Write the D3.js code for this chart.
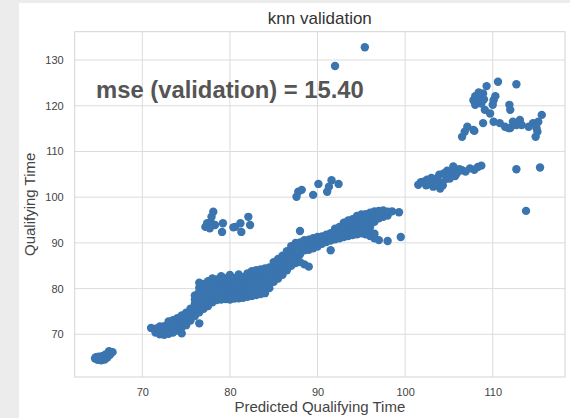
<!DOCTYPE html>
<html><head><meta charset="utf-8">
<script src="https://cdn.jsdelivr.net/npm/d3@7/dist/d3.min.js"></script>
<style>body{margin:0;background:#fff;overflow:hidden}svg{display:block}</style>
</head><body><svg id="c" width="570" height="418"></svg>
<script>
// ---- data: [predicted, actual] ----
const xTicks = [70, 80, 90, 100, 110];
const yTicks = [70, 80, 90, 100, 110, 120, 130];
const titleText = "knn validation";
const xLabel = "Predicted Qualifying Time";
const yLabel = "Qualifying Time";
const mseText = "mse (validation) = 15.40";

const lowCluster = [[64.6,64.7],[64.9,64.4],[65.3,64.3],[65.7,64.5],[66.0,64.9],[66.3,65.5],[66.6,66.1],[66.2,66.3],[65.8,65.6],[65.4,65.2],[65.0,65.1],[64.7,65.0],[65.5,64.8],[65.1,64.6],[65.9,65.2]];

// main diagonal band, listed column by column: [predicted, [actual values...]]
const bandColumns = [
 [71.0,[71.4]],
 [71.5,[70.4,71.2]],
 [72.0,[70.0,70.9,71.7]],
 [72.5,[69.9,70.8,71.8]],
 [73.0,[70.1,71.0,71.9,72.8]],
 [73.5,[70.4,71.3,72.2,73.1]],
 [74.0,[70.8,71.7,72.6,73.5]],
 [74.5,[70.2,71.5,72.4,73.3,74.1]],
 [75.0,[72.0,72.9,73.8,74.7]],
 [75.5,[73.0,73.9,74.8,75.6]],
 [76.0,[74.0,74.9,75.8,76.7,77.6,78.5]],
 [76.5,[72.4,74.8,75.7,76.6,77.5,78.4,79.3,80.2,81.3]],
 [77.0,[75.6,76.5,77.4,78.3,79.2,80.1,81.0]],
 [77.5,[76.2,77.1,78.0,78.9,79.8,80.7,81.6]],
 [78.0,[77.0,77.9,78.8,79.7,80.6,81.5,82.2]],
 [78.5,[77.5,78.4,79.3,80.2,81.1,82.0]],
 [79.0,[77.6,78.5,79.4,80.3,81.2,82.1,82.7]],
 [79.5,[77.7,78.6,79.5,80.4,81.3,82.2]],
 [80.0,[77.6,78.5,79.4,80.3,81.2,82.1,83.0]],
 [80.5,[77.8,78.7,79.6,80.5,81.4,82.3]],
 [81.0,[77.9,78.8,79.7,80.6,81.5,82.4,83.1]],
 [81.5,[78.0,78.9,79.8,80.7,81.6,82.5]],
 [82.0,[78.2,79.1,80.0,80.9,81.8,82.7,83.3]],
 [82.5,[78.4,79.3,80.2,81.1,82.0,82.9,83.8]],
 [83.0,[78.6,79.5,80.4,81.3,82.2,83.1,84.0]],
 [83.5,[78.8,79.7,80.6,81.5,82.4,83.3,84.2]],
 [84.0,[79.0,79.9,80.8,81.7,82.6,83.5,84.4]],
 [84.5,[80.1,81.0,81.9,82.8,83.7,84.6]],
 [85.0,[81.5,82.4,83.3,84.2,85.1,85.8]],
 [85.5,[82.2,83.1,84.0,84.9,85.8,86.5]],
 [86.0,[83.0,83.9,84.8,85.7,86.6,87.2]],
 [86.5,[84.0,84.9,85.8,86.7,87.6,88.2]],
 [87.0,[85.0,85.9,86.8,87.7,88.6,89.3]],
 [87.5,[85.6,86.5,87.4,88.3,89.2,90.0]],
 [88.0,[85.8,87.5,88.4,89.3,90.1,92.6]],
 [88.5,[85.3,88.4,89.2,90.0,90.6]],
 [89.0,[84.8,88.5,89.3,90.1,90.7]],
 [89.5,[88.8,89.6,90.4,91.0]],
 [90.0,[89.2,90.0,90.8,91.3]],
 [90.5,[89.8,90.6,91.4]],
 [91.0,[90.2,91.0,91.8]],
 [91.5,[88.4,90.5,91.3,92.1]],
 [92.0,[90.8,91.6,92.4,93.1]],
 [92.5,[91.0,91.9,92.7,93.5]],
 [93.0,[91.3,92.2,93.0,93.8,94.4]],
 [93.5,[91.5,92.4,93.3,94.1,94.9]],
 [94.0,[91.7,92.6,93.5,94.4,95.2]],
 [94.5,[91.9,92.8,93.7,94.6,95.4,95.9]],
 [95.0,[92.1,93.0,93.9,94.8,95.7,96.2]],
 [95.5,[91.9,92.8,93.7,94.6,95.5,96.3]],
 [96.0,[91.5,92.4,93.5,94.4,95.3,96.2,96.6]],
 [96.5,[91.0,92.0,94.6,95.5,96.4,96.9]],
 [97.0,[90.6,95.4,96.3,97.0]],
 [97.5,[95.7,96.5,97.1]],
 [98.0,[90.4,96.0,96.8]],
 [98.5,[96.9]],
 [99.3,[96.7]],
 [99.5,[91.3]]
];

const upperLeftOutliers = [[78.1,96.8],[77.9,95.7],[77.4,94.3],[77.2,93.5],[77.7,93.2],[78.3,93.9],[79.2,94.3],[79.1,92.4],[80.6,93.5],[81.2,94.3],[81.3,92.4],[82.1,95.7],[82.3,93.9],[80.4,93.4],[77.8,94.6]];

const midOutliers = [[87.8,101.2],[87.6,100.1],[88.2,101.6],[89.5,100.5],[90.1,102.9],[91.1,101.2],[91.3,102.3],[91.6,103.7],[92.4,102.9],[92.0,128.7],[95.4,132.8]];

const clusterC = [[101.5,102.7],[101.8,103.3],[102.1,103.4],[102.4,102.6],[102.8,103.0],[103.2,102.3],[103.6,104.1],[104.0,101.9],[104.0,103.2],[104.4,105.2],[104.7,104.0],[105.1,104.1],[105.5,106.7],[105.3,105.4],[105.9,105.2],[106.2,106.1],[106.5,105.9],[106.9,105.6],[107.4,106.3],[107.9,106.0],[108.3,106.6],[108.7,106.9],[103.0,104.2],[103.5,102.8],[102.5,103.8],[104.3,102.6],[104.8,105.8],[105.7,104.6],[103.9,104.9]];

const clusterD = [[110.6,125.25],[112.7,124.7],[109.3,124.3],[108.9,122.7],[108.0,122.1],[107.8,121.2],[108.5,121.6],[108.0,120.2],[108.7,120.5],[110.1,121.2],[110.3,122.1],[110.0,120.2],[109.1,119.1],[109.7,118.3],[111.9,120.2],[112.0,119.1],[110.1,116.5],[110.8,116.2],[111.4,115.4],[112.0,115.1],[112.3,116.5],[113.1,116.9],[112.7,115.8],[113.3,115.8],[114.1,115.4],[114.6,116.2],[115.2,116.5],[115.6,118.0],[115.0,115.1],[114.9,113.2],[111.8,115.1],[108.9,116.2],[107.1,115.4],[107.8,114.7],[106.5,113.2],[106.8,114.3],[107.9,114.5],[108.4,122.9],[108.2,120.9],[109.0,121.4],[115.1,114.3]];

const rightOutliers = [[112.7,106.1],[115.4,106.5],[113.8,97.0]];

const bandPoints = bandColumns.flatMap(([px, ys]) => ys.map(v => [px, v]));
const allPoints = [].concat(lowCluster, bandPoints, upperLeftOutliers, midOutliers, clusterC, clusterD, rightOutliers);

// ---- drawing ----
const svg = d3.select("#c");
const L = 74.7, R = 565, T = 31.7, B = 377;
const x = d3.scaleLinear().domain([62.28, 118.25]).range([L, R]);
const y = d3.scaleLinear().domain([60.66, 136.2]).range([B, T]);
const FONT = "Liberation Sans, Arial, sans-serif";

svg.append("rect").attr("x",0).attr("y",0).attr("width",570).attr("height",418).attr("fill","#fff");
svg.append("rect").attr("x",0).attr("y",0).attr("width",19).attr("height",418).attr("fill","#ececec");
svg.append("rect").attr("x",19).attr("y",0).attr("width",551).attr("height",3).attr("fill","#ececec");

// grid
const g = svg.append("g");
g.selectAll(".vx").data(xTicks).join("line")
  .attr("x1", d=>x(d)).attr("x2", d=>x(d)).attr("y1", T).attr("y2", B)
  .attr("stroke", "#dcdcdc").attr("stroke-width", 1);
g.selectAll(".hy").data(yTicks).join("line")
  .attr("y1", d=>y(d)).attr("y2", d=>y(d)).attr("x1", L).attr("x2", R)
  .attr("stroke", "#dcdcdc").attr("stroke-width", 1);
svg.append("rect").attr("x",L).attr("y",T).attr("width",R-L).attr("height",B-T)
  .attr("fill","none").attr("stroke","#d4d4d4").attr("stroke-width",1);

// axes
const xAxis = svg.append("g").attr("transform",`translate(0,${B})`)
  .call(d3.axisBottom(x).tickValues(xTicks).tickSize(0).tickPadding(11).tickFormat(d3.format("d")));
const yAxis = svg.append("g").attr("transform",`translate(${L},0)`)
  .call(d3.axisLeft(y).tickValues(yTicks).tickSize(0).tickPadding(11).tickFormat(d3.format("d")));
[xAxis, yAxis].forEach(a => {
  a.select(".domain").remove();
  a.selectAll("text").attr("font-family",FONT).attr("font-size",11).attr("fill","#444");
});

// points
svg.append("g").selectAll("circle").data(allPoints).join("circle")
  .attr("cx", d=>x(d[0])).attr("cy", d=>y(d[1])).attr("r", 4.2)
  .attr("fill", "#3a75b0");

// texts
svg.append("text").attr("x",(L+R)/2).attr("y",24).attr("text-anchor","middle")
  .attr("font-family",FONT).attr("font-size",17).attr("fill","#333").text(titleText);
svg.append("text").attr("x",(L+R)/2).attr("y",412).attr("text-anchor","middle")
  .attr("font-family",FONT).attr("font-size",15).attr("fill","#444").text(xLabel);
svg.append("text").attr("transform",`translate(35,${(T+B)/2}) rotate(-90)`).attr("text-anchor","middle")
  .attr("font-family",FONT).attr("font-size",15).attr("fill","#444").text(yLabel);
svg.append("text").attr("x",96).attr("y",98)
  .attr("font-family",FONT).attr("font-weight","bold").attr("font-size",23.8).attr("fill","#555").text(mseText);
</script></body></html>
